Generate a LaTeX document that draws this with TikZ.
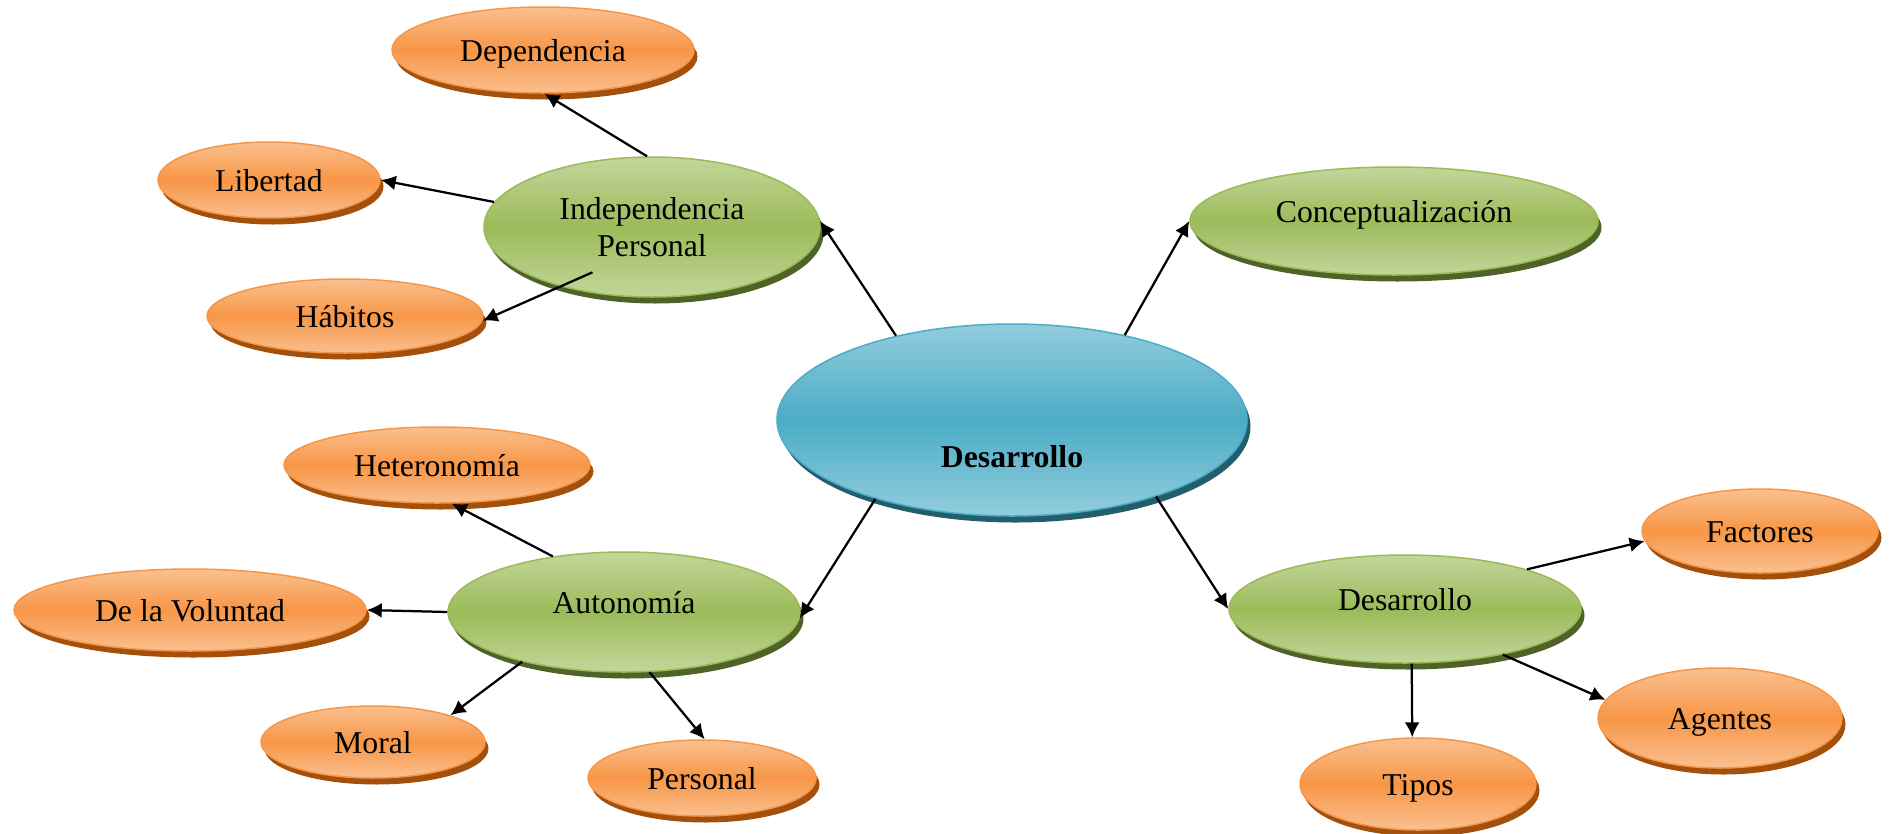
\documentclass[tikz,border=0pt]{standalone}
\usepackage{fontspec}
\setmainfont{Liberation Serif}
\usetikzlibrary{shapes.geometric, shadows, arrows.meta}

\definecolor{hubTop}{HTML}{93CDDD}
\definecolor{hubMid}{HTML}{4BACC6}
\definecolor{hubDark}{HTML}{235E6D}
\definecolor{brTop}{HTML}{C3D69B}
\definecolor{brMid}{HTML}{9BBB59}
\definecolor{brDark}{HTML}{4F6228}
\definecolor{lfTop}{HTML}{FAC090}
\definecolor{lfMid}{HTML}{F79646}
\definecolor{lfDark}{HTML}{A3500D}

\begin{document}
\begin{tikzpicture}[x=0.4pt, y=-0.4pt,
    every node/.style={font=\fontsize{12.7}{14.8}\selectfont},
    bub/.style={ellipse, inner sep=0pt, line width=0.6pt},
    bubsize/.style 2 args={minimum width=#1*0.8pt, minimum height=#2*0.8pt},
    hub/.style={bub, draw=hubMid, top color=hubTop, bottom color=hubTop, middle color=hubMid,
        general shadow={fill=hubDark, shadow xshift=1.4pt, shadow yshift=-2.6pt}},
    branch/.style={bub, draw=brMid, top color=brTop, bottom color=brTop, middle color=brMid,
        general shadow={fill=brDark, shadow xshift=1.4pt, shadow yshift=-2.6pt}},
    leaf/.style={bub, draw=lfMid, top color=lfTop, bottom color=lfTop, middle color=lfMid,
        text height=1.1em, text depth=0.15em,
        general shadow={fill=lfDark, shadow xshift=1.4pt, shadow yshift=-2.6pt}},
    oneline/.style={text height=0.1em, text depth=0pt},
    link/.style={-{Latex[length=6pt, width=6pt]}, line width=0.9pt}]

    \useasboundingbox (0,0) rectangle (1889,834);

    % centre
    \node[hub, bubsize={235}{96}, text height=39pt, text depth=1.4pt] (cen) at (1012,420) {\textbf{Desarrollo}};

    % second level
    \node[branch, bubsize={168}{70}, align=center] (indep) at (652,227) {Independencia\\Personal};
    \node[branch, oneline, bubsize={204}{54}] (concept) at (1394,221) {Conceptualización};
    \node[branch, oneline, bubsize={176}{60}] (auto) at (624,612) {Autonomía};
    \node[branch, oneline, bubsize={176}{54}] (desv) at (1405,609) {Desarrollo};

    % third level
    \node[leaf, bubsize={151}{43}] (dep) at (543,50) {Dependencia};
    \node[leaf, bubsize={111}{38}] (lib) at (269,180) {Libertad};
    \node[leaf, bubsize={138}{37}] (hab) at (345,316) {Hábitos};
    \node[leaf, bubsize={153}{38}] (het) at (437,465) {Heteronomía};
    \node[leaf, bubsize={176}{41}] (vol) at (190,610) {De la Voluntad};
    \node[leaf, bubsize={112}{36}] (mor) at (373,742) {Moral};
    \node[leaf, bubsize={114}{38}] (pers) at (702,778) {Personal};
    \node[leaf, bubsize={118}{42}] (fac) at (1760,531) {Factores};
    \node[leaf, bubsize={122}{50}] (age) at (1720,718) {Agentes};
    \node[leaf, bubsize={118}{46}] (tip) at (1418,784) {Tipos};

    \draw[link] (cen.144) -- (indep.2);
    \draw[link] (cen.37) -- (concept.west);
    \draw[link] (cen.210) -- (auto.-2);
    \draw[link] (cen.-28.5) -- (desv.west);

    \draw[link] (indep.94) -- (dep.-88);
    \draw[link] (indep.171) -- (lib.east);
    \draw[link, shorten <=-14pt] (indep.213) -- (hab.-2);

    \draw[link] (auto.142.6) -- (het.-69);
    \draw[link] (auto.west) -- (vol.east);
    \draw[link] (auto.206.8) -- (mor.19);
    \draw[link] (auto.-67) -- (pers.86);

    \draw[link] (desv.18.9) -- (fac.185);
    \draw[link] (desv.-25) -- (age.171);
    \draw[link] (desv.-83) -- (tip.97);
\end{tikzpicture}
\end{document}
